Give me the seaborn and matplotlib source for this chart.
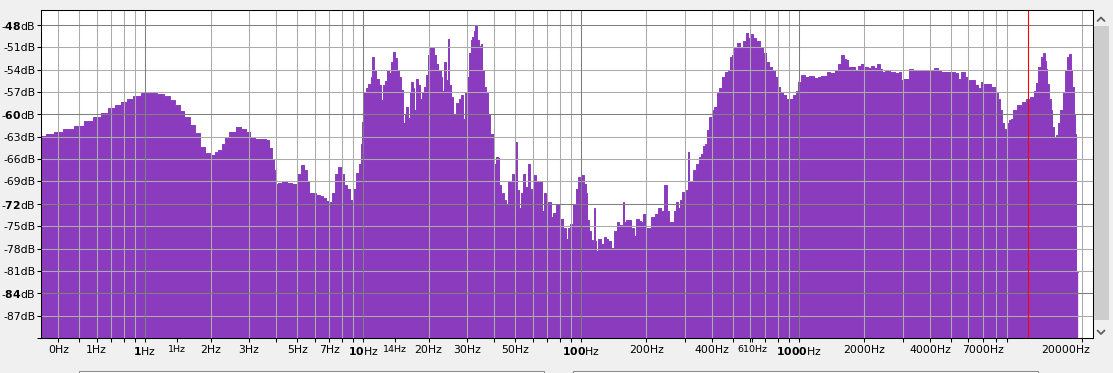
import matplotlib
matplotlib.use("Agg")
import matplotlib.pyplot as plt
import numpy as np
import pandas as pd
import seaborn as sns
from matplotlib.ticker import FixedLocator, FixedFormatter
from matplotlib.patches import Rectangle
from matplotlib.lines import Line2D

# ---------------- data ----------------
FREQ_HZ = [
    0.333, 0.367, 0.399, 0.443, 0.498, 0.548, 0.602, 0.649, 0.698, 0.752, 0.801, 0.853, 0.909,
    1.000, 1.088, 1.172, 1.262, 1.330, 1.402, 1.478, 1.558, 1.643, 1.732, 1.845, 1.945, 2.051,
    2.139, 2.208, 2.303, 2.378, 2.506, 2.699, 2.845, 2.968, 3.129, 3.299, 3.515, 3.666, 3.784,
    3.865, 3.948, 4.032, 4.162, 4.387, 4.625, 4.876, 5.086, 5.306, 5.477, 5.594, 5.713, 5.960,
    6.217, 6.485, 6.694, 6.909, 7.132, 7.361, 7.598, 7.843, 8.095, 8.356, 8.625, 8.903, 9.189,
    9.485, 9.687, 9.895,
    10.00, 10.21, 10.43, 10.77, 11.00, 11.11, 11.35, 11.72, 11.97, 12.22, 12.48, 12.75, 13.02,
    13.30, 13.58, 13.87, 14.17, 14.47, 14.78, 15.10, 15.42, 15.75, 15.92, 16.26, 16.60, 16.78,
    17.14, 17.32, 17.69, 18.07, 18.45, 18.85, 19.25, 19.66, 20.08, 20.29, 20.95, 21.39, 21.85,
    22.55, 23.03, 23.28, 23.78, 24.28, 24.80, 25.07, 25.60, 26.42, 27.28, 27.86, 28.45, 29.06,
    30.00, 30.31, 30.96, 31.62, 31.96, 32.64, 32.99, 33.69, 34.41, 35.15, 35.52, 36.28, 37.05,
    37.84, 38.65, 39.48, 40.32, 41.18, 42.06, 42.51, 43.41, 43.87, 44.81, 45.77, 47.24, 48.25,
    48.76, 49.80, 50.33, 51.40, 52.50, 53.63, 54.77, 56.53, 57.74, 58.97, 60.23, 61.52, 63.50,
    65.54, 66.94, 68.37, 69.83, 72.08, 73.61, 75.98, 78.43, 81.81, 84.45, 86.25, 88.09, 90.93,
    93.85, 95.86, 98.95,
    102.1, 104.3, 106.5, 107.7, 110.0, 112.3, 114.7, 115.9, 117.2, 118.4, 122.2, 126.2, 128.9,
    131.6, 135.8, 140.2, 144.7, 147.8, 151.0, 154.2, 157.5, 159.2, 162.6, 167.8, 173.2, 176.9,
    182.6, 186.5, 190.5, 194.5, 200.8, 207.3, 213.9, 223.2, 230.3, 237.8, 245.4, 250.6, 256.0,
    264.2, 269.9, 275.7, 281.5, 287.5, 293.7, 300.0, 306.4, 312.9, 316.2, 323.0, 333.4, 344.1,
    351.5, 359.0, 370.5, 374.4, 382.4, 394.8, 403.2, 416.2, 425.1, 438.7, 448.1, 467.4, 477.4,
    487.6, 498.0, 514.0, 530.6, 547.7, 565.3, 577.4, 596.0, 608.7, 628.3, 648.5, 676.5, 698.3,
    720.8, 744.0, 767.9, 792.6, 809.5, 835.6, 862.5, 890.3, 928.7, 958.6, 979.1,
    1011, 1043, 1088, 1147, 1197, 1248, 1288, 1344, 1358, 1432, 1494, 1542, 1592, 1626, 1660,
    1714, 1769, 1845, 1905, 1945, 2008, 2051, 2117, 2185, 2255, 2328, 2378, 2428, 2560, 2699,
    2845, 2906, 2968, 3064, 3162, 3264, 3405, 3590, 3784, 3989, 4075, 4251, 4434, 4577, 4825,
    5086, 5306, 5477, 5653, 5897, 6087, 6283, 6554, 6765, 6909, 7132, 7518, 7760, 8095, 8268,
    8445, 8625, 8809, 8997, 9093, 9287, 9485, 9791,
    10322, 10881, 11232, 11841, 12094, 12350, 12750, 13160, 13300, 13584, 13729, 13874, 14170,
    14473, 14626, 15097, 15258, 15584, 16085, 16429, 16958, 17137, 17503, 17876, 18067, 18452,
    18648, 18846, 19040,
]
LEVEL_DB = [
    -62.9, -62.7, -62.4, -62.0, -61.5, -60.9, -60.3, -59.8, -59.2, -58.8, -58.3, -58.0, -57.6,
    -57.2, -57.1, -57.3, -57.6, -58.1, -58.8, -59.6, -60.4, -61.4, -62.5, -64.4, -65.2, -65.4,
    -65.1, -64.8, -64.0, -63.2, -62.3, -61.7, -62.0, -62.4, -63.1, -63.3, -63.3, -63.4, -64.5,
    -66.0, -67.5, -69.3, -69.2, -68.9, -69.2, -69.3, -68.0, -66.8, -67.5, -69.0, -70.5, -70.6,
    -70.8, -71.0, -71.2, -71.6, -71.8, -70.5, -68.0, -67.1, -68.0, -69.5, -70.0, -71.5, -70.0,
    -67.8, -66.6, -64.0,
    -61.0, -57.0, -56.5, -55.9, -55.0, -52.3, -54.0, -55.2, -56.0, -58.1, -56.1, -55.5, -54.1,
    -54.5, -53.0, -51.6, -52.5, -54.1, -55.0, -56.7, -61.1, -60.0, -59.0, -60.5, -57.0, -55.7,
    -56.5, -59.4, -55.2, -56.0, -57.9, -57.0, -56.3, -54.7, -52.0, -51.1, -51.1, -52.0, -53.2,
    -54.1, -55.0, -56.8, -53.0, -55.4, -49.9, -56.0, -57.7, -60.1, -58.5, -58.0, -57.4, -60.6,
    -57.0, -55.0, -51.8, -50.0, -49.6, -48.8, -48.1, -50.0, -50.8, -50.5, -54.1, -56.3, -57.2,
    -59.9, -62.6, -62.6, -66.6, -65.7, -65.8, -69.5, -72.0, -70.6, -71.5, -72.0, -69.1, -69.9,
    -68.0, -70.5, -63.7, -70.2, -72.6, -70.5, -68.0, -69.8, -66.6, -70.0, -70.6, -68.2, -68.9,
    -69.0, -72.9, -70.6, -73.2, -71.8, -73.8, -73.2, -72.2, -74.0, -75.3, -76.7, -75.2, -74.7,
    -72.0, -70.0, -68.4,
    -68.2, -69.3, -70.6, -74.2, -75.6, -76.9, -77.5, -72.6, -77.0, -78.3, -76.7, -77.4, -76.5,
    -76.7, -77.0, -77.9, -75.6, -74.5, -74.8, -74.9, -71.8, -74.5, -74.2, -74.2, -75.3, -76.3,
    -74.0, -74.3, -74.5, -73.3, -75.3, -75.3, -73.8, -73.3, -72.5, -72.9, -69.5, -73.0, -74.5,
    -74.5, -73.0, -71.8, -72.5, -71.5, -70.4, -72.0, -70.2, -65.0, -69.0, -68.9, -67.5, -66.6,
    -65.7, -65.3, -64.2, -64.0, -62.1, -60.4, -59.4, -59.0, -57.2, -56.5, -55.0, -54.3, -54.1,
    -52.3, -52.0, -51.1, -50.4, -51.1, -50.2, -49.1, -49.8, -49.2, -49.8, -50.2, -50.9, -51.8,
    -53.0, -53.6, -54.1, -55.0, -56.3, -57.0, -57.4, -57.9, -57.9, -57.4, -56.8,
    -55.7, -54.7, -55.0, -54.9, -55.1, -55.0, -54.8, -54.8, -54.3, -54.4, -54.1, -53.2, -52.0,
    -52.6, -52.7, -53.6, -53.6, -54.0, -53.5, -53.2, -53.7, -53.6, -53.8, -53.5, -53.8, -53.3,
    -53.9, -54.3, -54.2, -54.3, -54.4, -54.3, -55.4, -55.2, -55.2, -53.9, -54.1, -54.1, -54.0,
    -54.1, -54.0, -53.8, -54.0, -54.3, -54.3, -54.3, -54.5, -55.2, -54.3, -55.0, -55.4, -55.4,
    -56.0, -56.5, -55.6, -55.9, -55.9, -56.3, -57.0, -58.0, -59.4, -61.2, -61.9, -62.1, -61.2,
    -60.8, -60.6, -59.4,
    -58.8, -58.4, -58.0, -57.7, -56.8, -55.8, -53.6, -52.3, -51.8, -52.8, -53.9, -55.9, -58.0,
    -59.4, -61.7, -63.1, -62.8, -61.2, -59.4, -57.2, -54.1, -52.3, -51.9, -54.1, -56.3, -59.9,
    -62.6, -81.2, -81.2,
]
FLOOR_DB = -90
TOP_DB = -46
FREQ_MIN, FREQ_MAX = 0.3333, 22390
CURSOR_HZ = 11232

GRID_FREQS = [0.4, 0.5, 0.6, 0.7, 0.8, 0.9,
              2, 3, 4, 5, 6, 7, 8, 9,
              20, 30, 40, 50, 60, 70, 80, 90,
              200, 300, 400, 500, 600, 700, 800, 900,
              2000, 3000, 4000, 5000, 6000, 7000, 8000, 9000, 20000]
DECADE_FREQS = [1, 10, 100, 1000]
X_LABELS = {0.4: "0Hz", 0.6: "1Hz", 1: r"$\mathbf{1}$Hz", 2: "2Hz", 3: "3Hz", 5: "5Hz",
            7: "7Hz", 10: r"$\mathbf{10}$Hz", 20: "20Hz", 30: "30Hz", 50: "50Hz",
            100: r"$\mathbf{100}$Hz", 200: "200Hz", 400: "400Hz",
            1000: r"$\mathbf{1000}$Hz", 2000: "2000Hz", 4000: "4000Hz", 7000: "7000Hz"}
SMALL_LABEL_FREQS = [1.4, 14, 610]
SMALL_LABELS = ["1Hz", "14Hz", "610Hz"]
LAST_LABEL = "20000Hz"
DB_TICKS = list(range(-90, -47, 3))
DB_MAJOR = [-48, -60, -72, -84]

PURPLE = "#8B3CBE"
GRID_LIGHT = "#ABABAB"
GRID_DARK = "#7F7F7F"

# ---------------- figure ----------------
sns.set_theme(style="white")
plt.rcParams["font.family"] = ["DejaVu Sans"]
plt.rcParams["mathtext.fontset"] = "dejavusans"

W, H = 1113, 373
fig = plt.figure(figsize=(W / 100, H / 100), dpi=100, facecolor="#F0F0F0")
ax = fig.add_axes([41 / W, 1 - 338 / H, (1093 - 41) / W, (338 - 10) / H])
ax.set_facecolor("white")

df = pd.DataFrame({"freq": FREQ_HZ, "db": LEVEL_DB})
ax.fill_between(df["freq"], df["db"], FLOOR_DB, step="mid", color=PURPLE,
                linewidth=0, zorder=1)
sns.lineplot(data=df, x="freq", y="db", ax=ax, estimator=None, sort=True,
             drawstyle="steps-mid", color=PURPLE, linewidth=0.7, zorder=1.1)

ax.set_xscale("log")
ax.set_xlim(FREQ_MIN, FREQ_MAX)
ax.set_ylim(FLOOR_DB, TOP_DB)
ax.set_xlabel("")
ax.set_ylabel("")

# grid
for f in GRID_FREQS:
    ax.axvline(f, color=GRID_LIGHT, lw=0.75, zorder=2)
for f in DECADE_FREQS:
    ax.axvline(f, color=GRID_DARK, lw=0.75, zorder=2.1)
for d in DB_TICKS[1:]:
    ax.axhline(d, color=GRID_DARK if d in DB_MAJOR else GRID_LIGHT, lw=0.75, zorder=2)
ax.axvline(CURSOR_HZ, color="#FF0000", lw=0.8, zorder=3)

# x ticks
x_major = sorted(GRID_FREQS + DECADE_FREQS)
ax.xaxis.set_major_locator(FixedLocator(x_major))
ax.xaxis.set_major_formatter(FixedFormatter([X_LABELS.get(f, "") for f in x_major]))
ax.xaxis.set_minor_locator(FixedLocator(SMALL_LABEL_FREQS))
ax.xaxis.set_minor_formatter(FixedFormatter(SMALL_LABELS))
ax.tick_params(axis="x", which="both", bottom=True, direction="out", length=3.2,
               width=0.75, color="black", pad=2, labelcolor="black")
ax.tick_params(axis="x", which="major", labelsize=7.8)
ax.tick_params(axis="x", which="minor", labelsize=6.8)
ax.annotate(LAST_LABEL, xy=(20000, 0), xycoords=ax.get_xaxis_transform(),
            xytext=(5.8, -5.2), textcoords="offset points", ha="right", va="top",
            fontsize=7.8, color="black")

# y ticks
ax.yaxis.set_major_locator(FixedLocator(DB_TICKS))
ylabels = []
for d in DB_TICKS:
    if d == FLOOR_DB:
        ylabels.append("")
    elif d in DB_MAJOR:
        ylabels.append("-$\\mathbf{%d}$dB" % abs(d))
    else:
        ylabels.append("-%ddB" % abs(d))
ax.yaxis.set_major_formatter(FixedFormatter(ylabels))
ax.tick_params(axis="y", which="major", left=True, direction="out", length=2.9,
               width=0.75, color="black", pad=1, labelsize=7.8, labelcolor="black")

for s in ax.spines.values():
    s.set_visible(True)
    s.set_color("black")
    s.set_linewidth(0.75)
    s.set_zorder(4)

# ---------------- window chrome (scrollbar, controls) ----------------
def fx(x):
    return x / W

def fy(y):
    return 1 - y / H

fig.add_artist(Rectangle((fx(1094), fy(320)), 15 / W, 294 / H, transform=fig.transFigure,
                         facecolor="#CDCDCD", edgecolor="none"))
fig.add_artist(Line2D([fx(1097.5), fx(1101), fx(1104.5)], [fy(21), fy(17.5), fy(21)],
                      transform=fig.transFigure, color="#606060", lw=1.3))
fig.add_artist(Line2D([fx(1097.5), fx(1101), fx(1104.5)], [fy(330.5), fy(334), fy(330.5)],
                      transform=fig.transFigure, color="#606060", lw=1.3))
for x0, x1 in [(79, 544), (573, 1038)]:
    fig.add_artist(Rectangle((fx(x0), fy(381)), (x1 - x0) / W, 10.3 / H,
                             transform=fig.transFigure, facecolor="white",
                             edgecolor="#8A8A8A", lw=0.75))

fig.savefig("out.png", dpi=100, facecolor=fig.get_facecolor())
